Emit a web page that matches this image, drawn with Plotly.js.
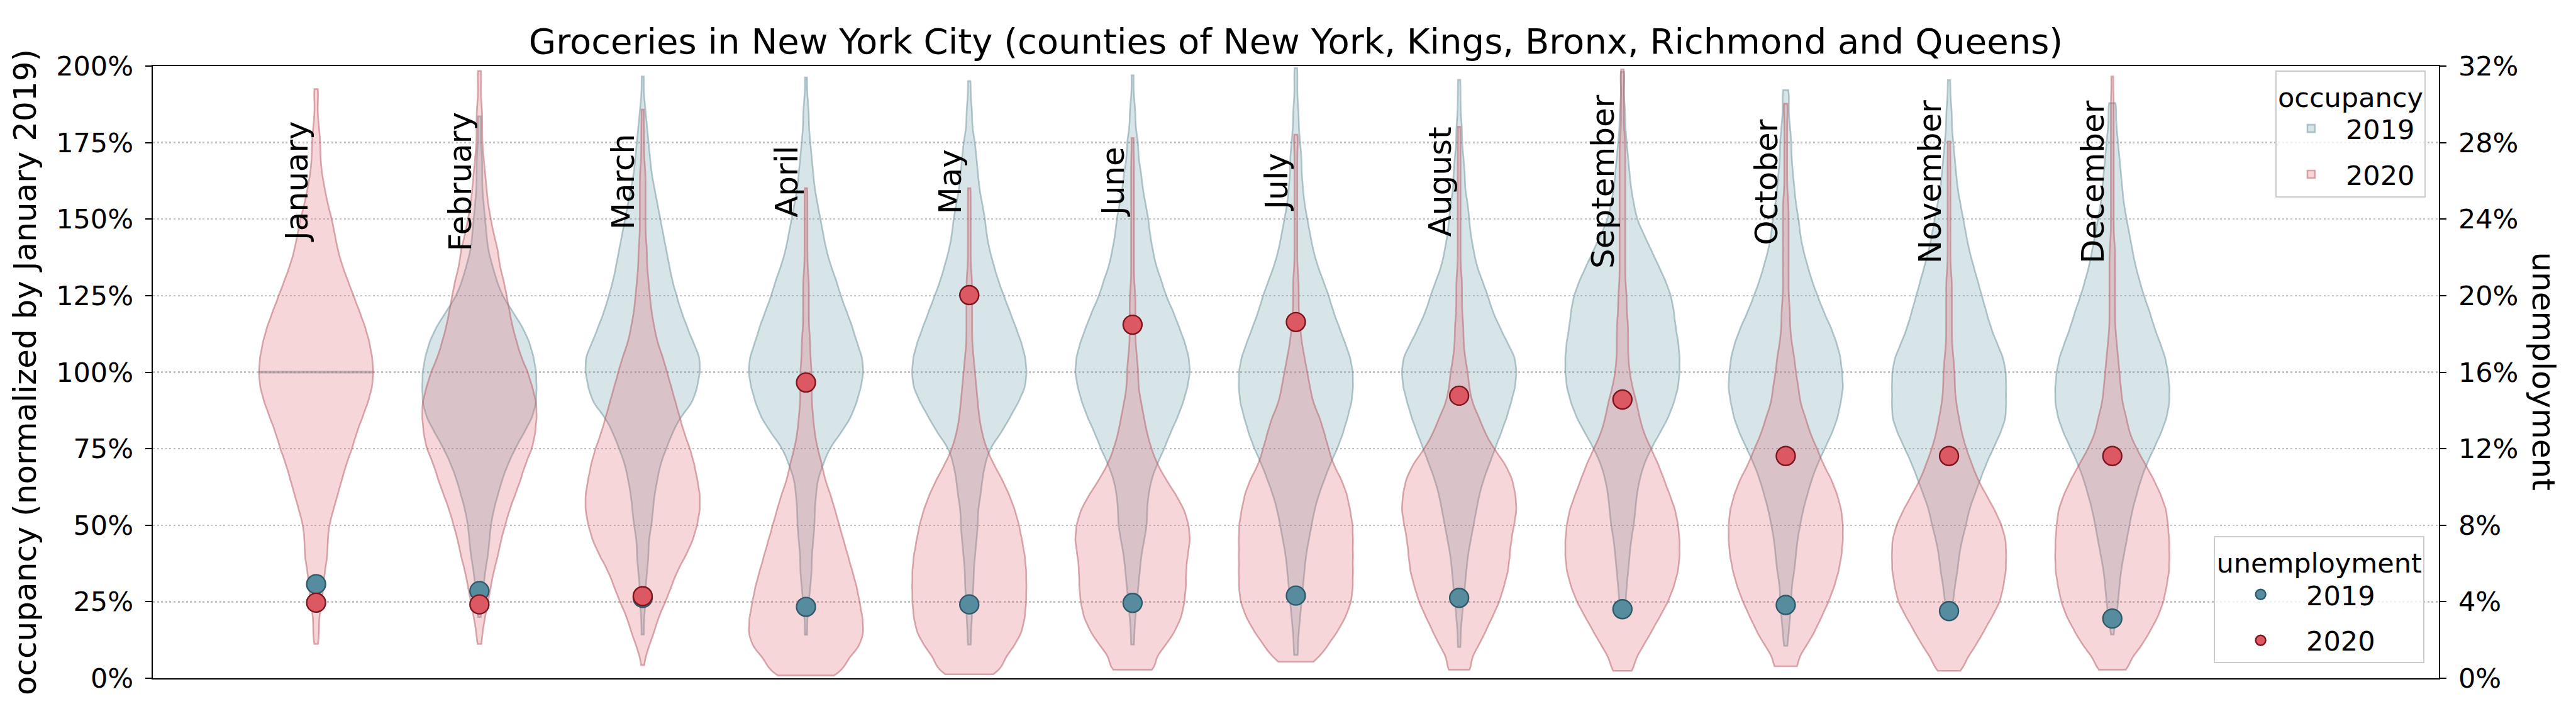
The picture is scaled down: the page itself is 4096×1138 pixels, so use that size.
<!DOCTYPE html>
<html>
<head>
<meta charset="utf-8">
<script src="https://cdn.plot.ly/plotly-3.0.1.min.js"></script>
<style>
  html, body { margin: 0; padding: 0; background: #ffffff; }
  #chart { width: 4096px; height: 1138px; }
</style>
</head>
<body>
<div id="chart"></div>
<script>
// ---------------- data ----------------
const months = ['January', 'February', 'March', 'April', 'May', 'June',
                'July', 'August', 'September', 'October', 'November', 'December'];

// unemployment rate, % (right axis)
const unemp2019 = [4.92, 4.56, 4.20, 3.73, 3.86, 3.94, 4.32, 4.20, 3.61, 3.83, 3.51, 3.12];
const unemp2020 = [3.95, 3.86, 4.29, 15.46, 20.03, 18.48, 18.62, 14.77, 14.57, 11.62, 11.62, 11.62];

// store occupancy (% of January 2019) as frequency tables [value, number of stores]
const occupancy2019 = [
  [[100, 20]],
  [[20,1],[25,2],[30,3],[35,4],[40,6],[45,7],[50,8],[55,10],[60,13],[65,16],[70,20],[75,25],[80,31],[85,37],[90,40],[95,40],[100,40],[105,38],[110,35],[115,30],[120,23],[125,16],[130,12],[135,9],[140,6],[145,5],[150,4],[155,3],[160,2],[165,2],[170,2],[175,1],[180,1],[183.6,1]],
  [[14.3,1],[20,1],[25,2],[30,2],[35,3],[40,4],[45,4],[50,6],[55,7],[60,8],[65,10],[70,12],[75,16],[80,20],[85,25],[90,34],[95,37],[100,39],[105,39],[110,34],[115,30],[120,26],[125,23],[130,20],[135,18],[140,16],[145,14],[150,12],[155,10],[160,8],[165,6],[170,5],[175,4],[180,3],[185,2],[190,1],[196.6,1]],
  [[14.2,1],[20,1],[25,2],[30,3],[35,4],[40,4],[45,5],[50,6],[55,6],[60,7],[65,8],[70,12],[75,16],[80,24],[85,31],[90,35],[95,38],[100,40],[105,39],[110,35],[115,32],[120,28],[125,24],[130,21],[135,17],[140,14],[145,12],[150,10],[155,8],[160,6],[165,5],[170,4],[175,3],[180,2],[185,2],[190,1],[196.3,1]],
  [[11,1],[15,1],[20,2],[25,2],[30,3],[35,3],[40,4],[45,5],[50,6],[55,6],[60,8],[65,9],[70,11],[75,14],[80,22],[85,28],[90,34],[95,39],[100,40],[105,39],[110,36],[115,32],[120,28],[125,24],[130,20],[135,17],[140,14],[145,12],[150,11],[155,9],[160,7],[165,6],[170,5],[175,4],[180,2],[185,2],[190,1],[195.1,1]],
  [[11,1],[15,1],[20,2],[25,3],[30,4],[35,5],[40,6],[45,8],[50,10],[55,10],[60,11],[65,13],[70,17],[75,22],[80,26],[85,31],[90,35],[95,38],[100,40],[105,39],[110,36],[115,32],[120,28],[125,23],[130,20],[135,16],[140,14],[145,12],[150,11],[155,9],[160,7],[165,6],[170,4],[175,4],[180,2],[185,2],[190,1],[197,1]],
  [[7.6,1],[10,1],[15,2],[20,3],[25,4],[30,5],[35,6],[40,7],[45,9],[50,11],[55,13],[60,16],[65,20],[70,24],[75,29],[80,33],[85,36],[90,39],[95,40],[100,40],[105,38],[110,34],[115,30],[120,26],[125,23],[130,19],[135,15],[140,12],[145,10],[150,8],[155,6],[160,5],[165,4],[170,4],[175,3],[180,2],[185,2],[190,1],[195,1],[199.3,1]],
  [[10.2,1],[15,1],[20,2],[25,3],[30,4],[35,5],[40,6],[45,8],[50,10],[55,12],[60,14],[65,17],[70,21],[75,25],[80,29],[85,33],[90,36],[95,39],[100,40],[105,39],[110,33],[115,28],[120,23],[125,20],[130,16],[135,12],[140,10],[145,8],[150,7],[155,6],[160,4],[165,4],[170,3],[175,2],[180,2],[185,1],[190,1],[195.5,1]],
  [[22,1],[25,2],[30,3],[35,4],[40,5],[45,6],[50,8],[55,9],[60,10],[65,12],[70,15],[75,20],[80,26],[85,32],[90,36],[95,39],[100,40],[105,40],[110,39],[115,37],[120,36],[125,34],[130,30],[135,25],[140,20],[145,15],[150,10],[155,8],[160,6],[165,5],[170,4],[175,3],[180,2],[185,2],[190,1],[195,1],[198.1,1]],
  [[10.6,1],[15,2],[20,3],[25,4],[30,4],[35,6],[40,7],[45,8],[50,10],[55,12],[60,15],[65,18],[70,22],[75,27],[80,32],[85,36],[90,38],[95,40],[100,39],[105,38],[110,35],[115,31],[120,26],[125,22],[130,18],[135,15],[140,12],[145,10],[150,9],[155,7],[160,6],[165,5],[170,4],[175,4],[180,3],[185,2],[190,2],[192.2,1]],
  [[19,1],[25,3],[30,4],[35,6],[40,7],[45,9],[50,12],[55,14],[60,18],[65,22],[70,26],[75,31],[80,36],[85,40],[90,40],[95,40],[100,40],[105,38],[110,33],[115,29],[120,26],[125,23],[130,20],[135,17],[140,14],[145,12],[150,10],[155,8],[160,6],[165,5],[170,4],[175,3],[180,2],[185,2],[190,1],[195.4,1]],
  [[14.3,1],[20,3],[25,4],[30,5],[35,6],[40,8],[45,10],[50,12],[55,14],[60,17],[65,20],[70,24],[75,29],[80,34],[85,38],[90,40],[95,40],[100,39],[105,37],[110,33],[115,29],[120,26],[125,22],[130,19],[135,16],[140,14],[145,12],[150,10],[155,8],[160,7],[165,6],[170,5],[175,4],[180,3],[185,2],[187.9,2]]
];

const occupancy2020 = [
  [[11.2,1],[15,2],[20,2],[25,4],[30,5],[35,6],[40,8],[45,8],[50,9],[55,12],[60,15],[65,18],[70,21],[75,25],[80,28],[85,32],[90,36],[95,39],[100,40],[105,39],[110,37],[115,34],[120,30],[125,26],[130,22],[135,18],[140,15],[145,13],[150,11],[155,8],[160,6],[165,4],[170,3],[175,3],[180,2],[185,1],[190,1],[192.5,1]],
  [[11.2,1],[15,2],[20,4],[25,6],[30,8],[35,10],[40,13],[45,15],[50,18],[55,21],[60,25],[65,29],[70,32],[75,37],[80,39],[85,40],[90,40],[95,37],[100,34],[105,29],[110,26],[115,23],[120,21],[125,19],[130,17],[135,14],[140,13],[145,10],[150,8],[155,6],[160,5],[165,4],[170,3],[175,2],[180,2],[185,2],[190,1],[195,1],[198.4,1]],
  [[4.3,1],[10,4],[15,8],[20,11],[25,16],[30,20],[35,24],[40,30],[45,35],[50,38],[55,40],[60,40],[65,38],[70,36],[75,33],[80,29],[85,26],[90,23],[95,20],[100,17],[105,14],[110,10],[115,8],[120,6],[125,5],[130,4],[135,3],[140,3],[145,2],[150,2],[155,2],[160,2],[165,2],[170,1],[175,1],[180,1],[185.8,1]],
  [[0.9,19],[5,25],[10,37],[15,40],[20,39],[25,37],[30,35],[35,32],[40,29],[45,26],[50,23],[55,20],[60,17],[65,13],[70,11],[75,8],[80,6],[85,5],[90,4],[95,4],[100,4],[105,3],[110,3],[115,2],[120,2],[125,2],[130,2],[135,1],[140,1],[145,1],[150,1],[155,1],[160.1,1]],
  [[1.3,15],[5,21],[10,31],[15,37],[20,39],[25,40],[30,40],[35,40],[40,39],[45,37],[50,35],[55,32],[60,28],[65,23],[70,17],[75,12],[80,9],[85,7],[90,6],[95,5],[100,4],[105,3],[110,2],[115,2],[120,2],[125,2],[130,2],[135,1],[140,1],[145,1],[150,1],[155,1],[160.1,1]],
  [[2.8,12],[5,9],[10,22],[15,29],[20,34],[25,36],[30,37],[35,37],[40,38],[45,40],[50,39],[55,36],[60,30],[65,23],[70,17],[75,13],[80,10],[85,8],[90,6],[95,4],[100,4],[105,3],[110,2],[115,2],[120,2],[125,2],[130,1],[135,1],[140,1],[145,1],[150,1],[155,1],[160,1],[165,1],[170,1],[176.5,1]],
  [[5.4,12],[10,21],[15,29],[20,35],[25,39],[30,40],[35,40],[40,40],[45,40],[50,40],[55,38],[60,36],[65,32],[70,26],[75,23],[80,20],[85,17],[90,12],[95,10],[100,8],[105,6],[110,4],[115,3],[120,2],[125,2],[130,2],[135,1],[140,1],[145,1],[150,1],[155,1],[160,1],[165,1],[170,1],[175,1],[177.6,1]],
  [[2.8,7],[5,4],[10,13],[15,18],[20,23],[25,28],[30,31],[35,34],[40,35],[45,36],[50,38],[55,40],[60,39],[65,37],[70,32],[75,24],[80,18],[85,14],[90,9],[95,7],[100,6],[105,4],[110,3],[115,3],[120,2],[125,2],[130,2],[135,1],[140,1],[145,1],[150,1],[155,1],[160,1],[165,1],[170,1],[175,1],[180.2,1]],
  [[2.4,5],[5,6],[10,14],[15,20],[20,26],[25,32],[30,36],[35,39],[40,40],[45,40],[50,39],[55,37],[60,33],[65,29],[70,25],[75,20],[80,15],[85,12],[90,10],[95,7],[100,5],[105,4],[110,4],[115,4],[120,3],[125,3],[130,2],[135,2],[140,2],[145,2],[150,2],[155,2],[160,2],[165,2],[170,2],[175,2],[180,1],[185,1],[190,1],[195,1],[198.9,1]],
  [[3.9,10],[10,14],[15,20],[20,25],[25,30],[30,34],[35,37],[40,39],[45,40],[50,40],[55,39],[60,36],[65,32],[70,26],[75,22],[80,17],[85,14],[90,10],[95,9],[100,7],[105,6],[110,4],[115,3],[120,3],[125,2],[130,2],[135,2],[140,2],[145,2],[150,2],[155,2],[160,1],[165,1],[170,1],[175,1],[180,1],[185,1],[187.7,1]],
  [[2.4,5],[5,9],[10,18],[15,24],[20,30],[25,36],[30,38],[35,40],[40,40],[45,40],[50,37],[55,32],[60,26],[65,20],[70,16],[75,12],[80,9],[85,7],[90,5],[95,4],[100,4],[105,3],[110,2],[115,2],[120,2],[125,2],[130,2],[135,1],[140,1],[145,1],[150,1],[155,1],[160,1],[165,1],[170,1],[175.4,1]],
  [[2.8,7],[5,8],[10,20],[15,26],[20,32],[25,36],[30,38],[35,40],[40,40],[45,40],[50,39],[55,38],[60,34],[65,29],[70,23],[75,17],[80,12],[85,10],[90,7],[95,6],[100,5],[105,4],[110,3],[115,2],[120,2],[125,2],[130,2],[135,2],[140,2],[145,1],[150,1],[155,1],[160,1],[165,1],[170,1],[175,1],[180,1],[185,1],[190,1],[196.6,1]]
];

const yearLabels = ['2019', '2020'];
const occTickVals = [0, 25, 50, 75, 100, 125, 150, 175, 200];
const unempTickVals = [0, 4, 8, 12, 16, 20, 24, 28, 32];

// ---------------- styles ----------------
const FONT = 'DejaVu Sans, Verdana, sans-serif';
const style = {
  '2019': { fill: 'rgba(95,151,163,0.25)', edge: 'rgba(110,145,156,0.5)',
            marker: '#578c9e', markerEdge: '#2e5b6b' },
  '2020': { fill: 'rgba(223,91,103,0.25)', edge: 'rgba(180,92,102,0.5)',
            marker: '#dc5862', markerEdge: '#7c151d' }
};

function expand(table) {
  const out = [];
  table.forEach(function (row) { for (let k = 0; k < row[1]; k++) out.push(row[0]); });
  return out;
}
function pct(v) { return v + '%'; }

const monthIdx = months.map(function (_, i) { return i; });
const traces = [];

[occupancy2019, occupancy2020].forEach(function (tables, yi) {
  const yr = yearLabels[yi];
  tables.forEach(function (table, m) {
    const vals = expand(table);
    const degenerate = table.length === 1;
    const t = {
      type: 'violin', x0: m, y: vals, name: yr,
      legend: 'legend', legendgroup: 'occ' + yr, showlegend: m === 1,
      width: 0.7, spanmode: 'hard', scalemode: 'width', side: 'both',
      points: false, box: { visible: false }, meanline: { visible: false },
      fillcolor: style[yr].fill,
      line: { color: style[yr].edge, width: degenerate ? 3.8 : 2.6 },
      hoverinfo: 'skip'
    };
    if (!degenerate) t.bandwidth = 3;
    traces.push(t);
  });
});

[unemp2019, unemp2020].forEach(function (vals, yi) {
  const yr = yearLabels[yi];
  traces.push({
    type: 'scatter', mode: 'markers', x: monthIdx, y: vals, yaxis: 'y2',
    name: yr, legend: 'legend2', legendgroup: 'un' + yr,
    marker: { size: 30, color: style[yr].marker, line: { color: style[yr].markerEdge, width: 2.4 } },
    hoverinfo: 'skip'
  });
});

const annotations = months.map(function (name, i) {
  return {
    text: name, x: i - 0.118, y: 162.2, xref: 'x', yref: 'y',
    textangle: -90, showarrow: false, xanchor: 'center', yanchor: 'middle',
    font: { family: FONT, size: 50, color: '#000000' }
  };
});
annotations.push({
  text: 'unemployment', x: 1.0457, y: 0.502, xref: 'paper', yref: 'paper',
  textangle: 90, showarrow: false, xanchor: 'center', yanchor: 'middle',
  font: { family: FONT, size: 50, color: '#000000' }
});

const axisLine = { showline: true, linecolor: '#000000', linewidth: 2.3 };

const layout = {
  width: 4096, height: 1138,
  margin: { l: 243, r: 218, t: 105, b: 60, pad: 0 },
  paper_bgcolor: '#ffffff', plot_bgcolor: '#ffffff',
  font: { family: FONT, size: 43, color: '#000000' },
  title: {
    text: 'Groceries in New York City (counties of New York, Kings, Bronx, Richmond and Queens)',
    font: { family: FONT, size: 56, color: '#000000' },
    x: 0.5, xref: 'paper', xanchor: 'center',
    y: 0.9423, yref: 'container', yanchor: 'middle'
  },
  violinmode: 'overlay', violingap: 0, violingroupgap: 0,
  showlegend: true,
  xaxis: Object.assign({
    type: 'linear', range: [-1, 13], showticklabels: false, ticks: '',
    showgrid: false, zeroline: false, mirror: true, fixedrange: true
  }, axisLine),
  yaxis: Object.assign({
    range: [0, 200], tickmode: 'array', tickvals: occTickVals, ticktext: occTickVals.map(pct),
    ticks: 'outside', ticklen: 10, tickwidth: 2, tickcolor: '#000000',
    ticklabelstandoff: 10,
    showgrid: true, gridcolor: '#c3c3c3', gridwidth: 2.3, griddash: '3px,3.6px',
    zeroline: false,
    title: { text: 'occupancy (normalized by January 2019)', font: { family: FONT, size: 50 }, standoff: 16 },
    tickfont: { family: FONT, size: 43 }
  }, axisLine),
  yaxis2: Object.assign({
    range: [0, 32], overlaying: 'y', side: 'right', tickmode: 'array', tickvals: unempTickVals,
    ticktext: unempTickVals.map(pct),
    ticks: 'outside', ticklen: 10, tickwidth: 2, tickcolor: '#000000',
    ticklabelstandoff: 10,
    showgrid: false, zeroline: false,
    tickfont: { family: FONT, size: 43 }
  }, axisLine),
  legend: {
    x: 0.9942, xanchor: 'right', y: 0.993, yanchor: 'top',
    bgcolor: 'rgba(255,255,255,0.8)', bordercolor: '#cccccc', borderwidth: 2,
    font: { family: FONT, size: 43 }, traceorder: 'grouped', tracegroupgap: 14,
    itemwidth: 100,
    title: { text: 'occupancy', side: 'top center', font: { family: FONT, size: 43 } }
  },
  legend2: {
    x: 0.9937, xanchor: 'right', y: 0.0242, yanchor: 'bottom',
    bgcolor: 'rgba(255,255,255,0.8)', bordercolor: '#cccccc', borderwidth: 2,
    font: { family: FONT, size: 43 }, traceorder: 'grouped', tracegroupgap: 14,
    itemwidth: 135,
    title: { text: 'unemployment', side: 'top center', font: { family: FONT, size: 43 } }
  },
  annotations: annotations
};

Plotly.newPlot('chart', traces, layout, { displayModeBar: false, staticPlot: true });
</script>
</body>
</html>
